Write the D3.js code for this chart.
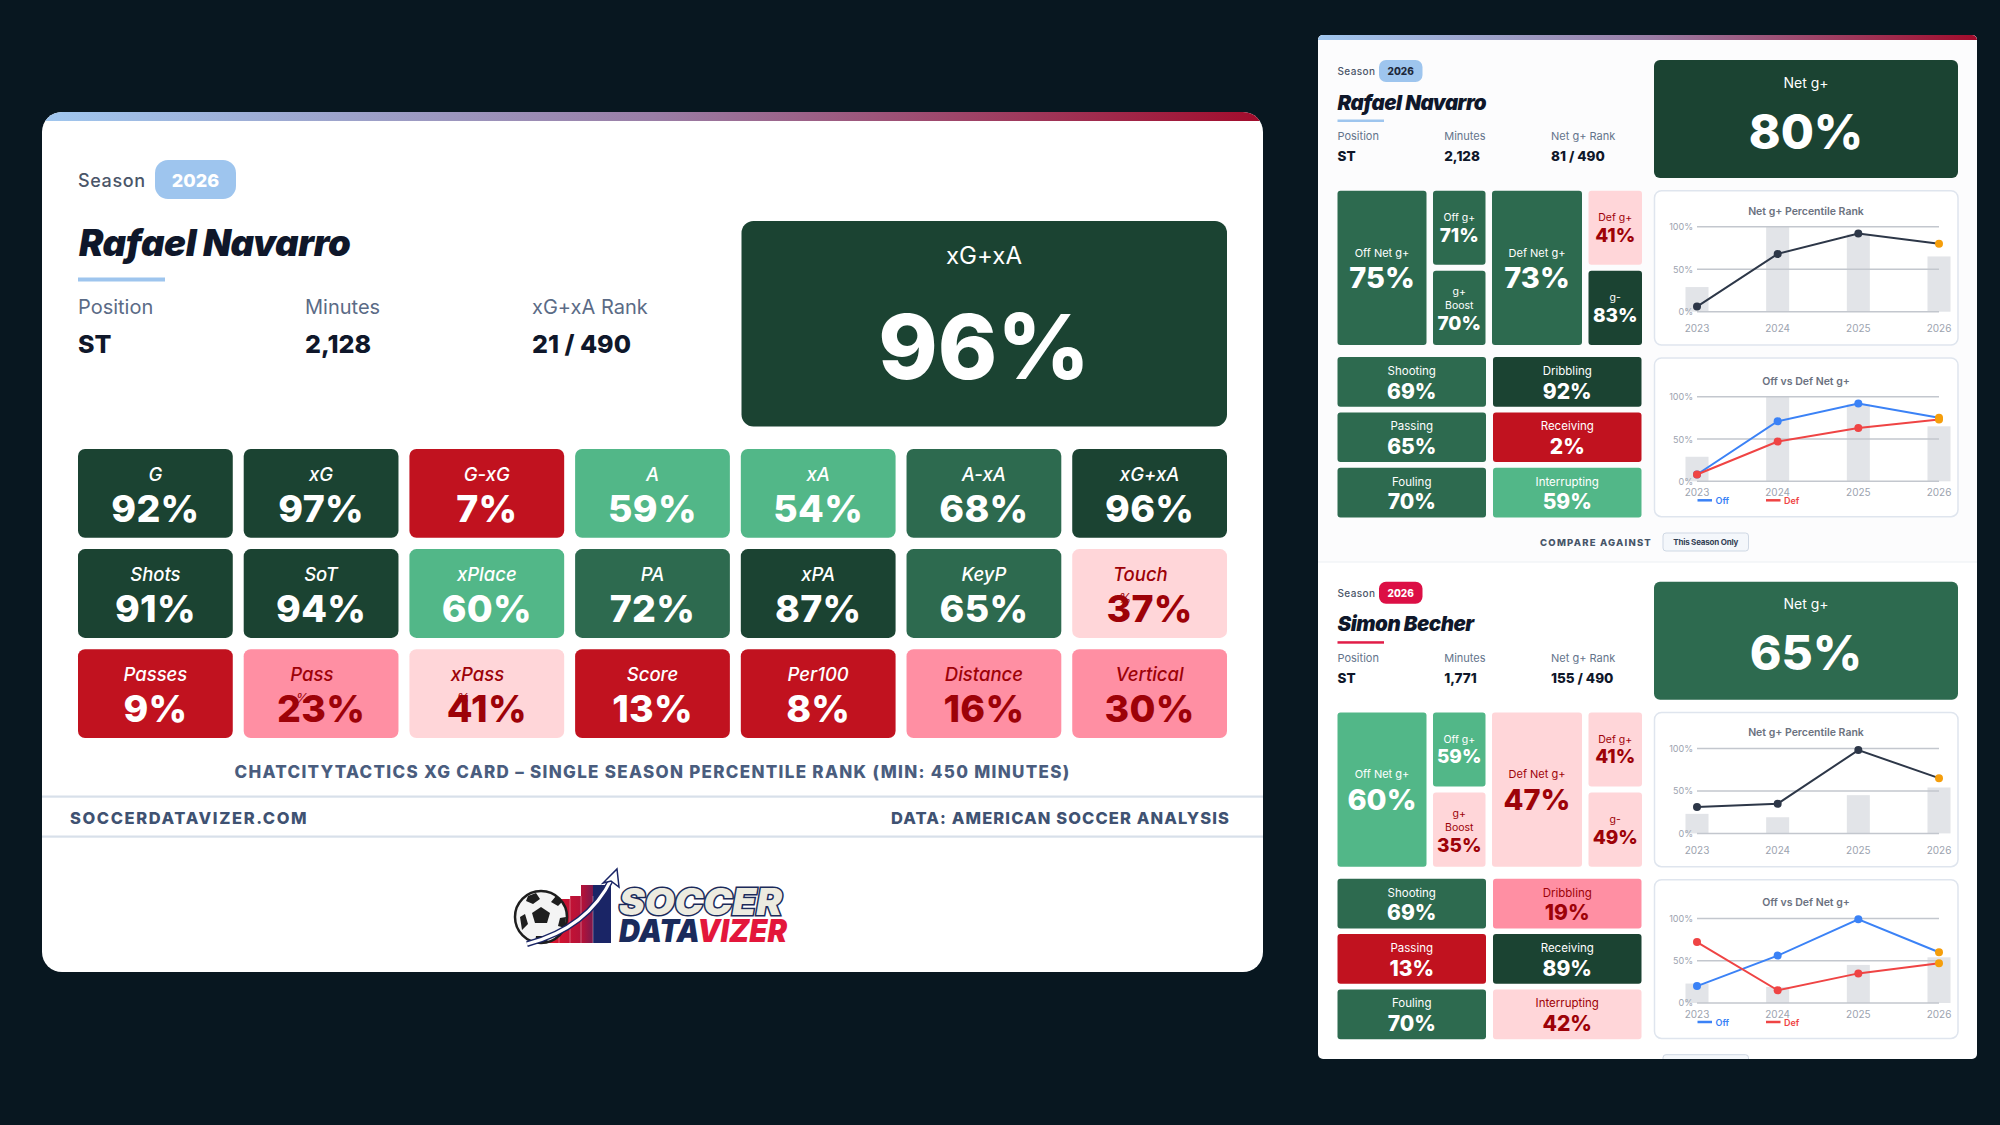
<!DOCTYPE html>
<html><head><meta charset="utf-8">
<script src="https://cdn.jsdelivr.net/npm/d3@7"></script>
<style>
html,body{margin:0;padding:0;background:#081720;}
svg{display:block;font-family:Inter,"Noto Sans",sans-serif;}
</style></head><body>
<svg id="c" width="2000" height="1125"></svg>
<script>
// ---------------- DATA ----------------
const season = "2026";
// left card: xG card
const xgPlayer = "Rafael Navarro";
const xgInfoLabels = ["Position", "Minutes", "xG+xA Rank"];
const xgInfoValues = ["ST", "2,128", "21 / 490"];
const xgHeadLabel = "xG+xA";
const xgHeadValue = 96;
const xgMetrics = ["G","xG","G-xG","A","xA","A-xA","xG+xA",
                   "Shots","SoT","xPlace","PA","xPA","KeyP","Touch %",
                   "Passes","Pass %","xPass %","Score","Per100","Distance","Vertical"];
const xgValues  = [92,97,7,59,54,68,96,
                   91,94,60,72,87,65,37,
                   9,23,41,13,8,16,30];
const xgCaption = "CHATCITYTACTICS XG CARD \u2013 SINGLE SEASON PERCENTILE RANK (MIN: 450 MINUTES)";
const footLeft = "SOCCERDATAVIZER.COM";
const footRight = "DATA: AMERICAN SOCCER ANALYSIS";

// right panel: g+ cards
const gPlayers   = ["Rafael Navarro", "Simon Becher"];
const gInfoLabels = ["Position", "Minutes", "Net g+ Rank"];
const gPositions = ["ST", "ST"];
const gMinutes   = ["2,128", "1,771"];
const gRanks     = ["81 / 490", "155 / 490"];
const gNetLabel  = "Net g+";
const gNet       = [80, 65];
const gTileLabels = ["Off Net g+", "Off g+", "g+ Boost", "Def Net g+", "Def g+", "g-"];
const gTileValues = [[75,71,70,73,41,83],[60,59,35,47,41,49]];
const gSkillLabels = ["Shooting","Dribbling","Passing","Receiving","Fouling","Interrupting"];
const gSkillValues = [[69,92,65,2,70,59],[69,19,13,89,70,42]];
const years = ["2023","2024","2025","2026"];
const netRankSeries = [[6,68,92,80],[31,35,98,65]];
const barSeries     = [[29,100,91,65],[23,19,45,54]];
const offSeries     = [[8,71,92,75],[20,56,99,60]];
const defSeries     = [[8,47,63,73],[72,15,35,47]];
const yTicks = [0,50,100];
const chartTitles = ["Net g+ Percentile Rank", "Off vs Def Net g+"];
const legendLabels = ["Off", "Def"];
const compareLabel = "COMPARE AGAINST";
const compareOption = "This Season Only";

// ---------------- STYLE ----------------
const fillScale = d3.scaleThreshold().domain([15,33,50,61,80])
  .range(["#c1121f","#ff8fa3","#ffd6d9","#52b788","#2d6a4f","#1b4332"]);
const textScale = d3.scaleThreshold().domain([15,50]).range(["#ffffff","#9d0208","#ffffff"]);
const pct = v => v + "%";

const svg = d3.select("#c");
const defs = svg.append("defs");
const grad = defs.append("linearGradient").attr("id","topgrad");
grad.append("stop").attr("offset","0").attr("stop-color","#a0c7ef");
grad.append("stop").attr("offset","0.5").attr("stop-color","#9a7ea6");
grad.append("stop").attr("offset","1").attr("stop-color","#a20c2c");

function T(g, x, y, s, o = {}) {
  const t = g.append("text").attr("x", x).attr("y", y)
    .attr("dominant-baseline", "central")
    .attr("text-anchor", o.anchor || "start")
    .attr("font-size", o.size || 12)
    .attr("font-weight", o.weight || 400)
    .attr("fill", o.fill || "#111")
    .text(s);
  if (o.italic) t.attr("font-style", "italic");
  if (o.ls) t.attr("letter-spacing", o.ls);
  return t;
}

// ---------------- LEFT CARD ----------------
const L = {x: 42, y: 112, w: 1221, h: 860};
defs.append("clipPath").attr("id","lclip").append("rect")
  .attr("x",L.x).attr("y",L.y).attr("width",L.w).attr("height",L.h).attr("rx",20);
const lc = svg.append("g").attr("clip-path","url(#lclip)");
lc.append("rect").attr("x",L.x).attr("y",L.y).attr("width",L.w).attr("height",L.h).attr("fill","#fff");
lc.append("rect").attr("x",L.x).attr("y",L.y).attr("width",L.w).attr("height",9).attr("fill","url(#topgrad)");

T(lc, 78, 180, "Season", {size: 18, fill: "#4a5568", ls: 0.6, weight: 500});
lc.append("rect").attr("x",155).attr("y",160).attr("width",81).attr("height",39).attr("rx",13).attr("fill","#9ec5ee");
T(lc, 195.5, 180, season, {size: 18, weight: 800, fill: "#fff", anchor: "middle"});
T(lc, 79, 243, xgPlayer, {size: 36.5, weight: 900, italic: true, fill: "#0f172a", ls: -0.4});
lc.append("rect").attr("x",78).attr("y",277.5).attr("width",87).attr("height",4).attr("fill","#9ec5ee");

const infoX = d3.scalePoint().domain(d3.range(3)).range([78, 532]);
xgInfoLabels.forEach((l, i) => {
  T(lc, infoX(i), 307, l, {size: 20, fill: "#5b6b86"});
  T(lc, infoX(i), 344, xgInfoValues[i], {size: 25, weight: 800, fill: "#0f172a"});
});

lc.append("rect").attr("x",741.5).attr("y",221).attr("width",485.5).attr("height",205.5).attr("rx",12).attr("fill",fillScale(xgHeadValue));
T(lc, 984, 255, xgHeadLabel, {size: 24, fill: "#fff", anchor: "middle"});
T(lc, 984, 346, pct(xgHeadValue), {size: 90, weight: 800, fill: "#fff", anchor: "middle"});

const colX = d3.scaleBand().domain(d3.range(7)).range([78, 1227]).paddingInner(0.066);
const rowY = d3.scaleBand().domain(d3.range(3)).range([449, 738]).paddingInner(0.113);
const tiles = lc.append("g").selectAll("g").data(xgMetrics.map((m, i) => ({m, v: xgValues[i], c: i % 7, r: Math.floor(i / 7)})))
  .join("g").attr("transform", d => `translate(${colX(d.c)},${rowY(d.r)})`);
tiles.append("rect").attr("width", colX.bandwidth()).attr("height", rowY.bandwidth()).attr("rx", 7).attr("fill", d => fillScale(d.v));
tiles.each(function(d) {
  const g = d3.select(this), cx = colX.bandwidth() / 2, col = textScale(d.v);
  const wrap = d.m.endsWith(" %");
  const lab = wrap ? d.m.slice(0, -2) : d.m;
  const t = T(g, wrap ? cx - 9.3 : cx, 24.5, lab, {size: 18.5, italic: true, fill: col, anchor: "middle", weight: 500});
  T(g, cx, 59, pct(d.v), {size: 37.5, weight: 800, fill: col, anchor: "middle", ls: 0.3});
  if (wrap) {
    const w = t.node().getComputedTextLength();
    T(g, cx - 9.3 - w / 2 + 12, 48.5, "%", {size: 13, italic: true, fill: col, anchor: "middle"});
  }
});

T(lc, 652.5, 772, xgCaption, {size: 17, weight: 800, fill: "#4a5d7e", anchor: "middle", ls: 1.3});
lc.append("rect").attr("x",L.x).attr("y",795.5).attr("width",L.w).attr("height",2.2).attr("fill","#d8e0ea");
lc.append("rect").attr("x",L.x).attr("y",835.5).attr("width",L.w).attr("height",2.2).attr("fill","#d8e0ea");
T(lc, 70, 818, footLeft, {size: 16.5, weight: 800, fill: "#3f5272", ls: 1.6});
T(lc, 1230, 818, footRight, {size: 16.5, weight: 800, fill: "#3f5272", ls: 1.1, anchor: "end"});

// logo (decorative)
const lg = lc.append("g");
const bg = defs.append("linearGradient").attr("id","bargrad");
bg.append("stop").attr("offset","0").attr("stop-color","#e0142c");
bg.append("stop").attr("offset","0.55").attr("stop-color","#b0123a");
bg.append("stop").attr("offset","1").attr("stop-color","#1b2870");
lg.append("path").attr("d","M549 943 V903 H559 V899 H570 V896 H581 V885 H611 V943 Z").attr("fill","url(#bargrad)");
lg.append("rect").attr("x",593).attr("y",885).attr("width",18).attr("height",58).attr("fill","#1a2566");
[559,570,581,593].forEach(x => lg.append("line").attr("x1",x).attr("x2",x).attr("y1",896).attr("y2",943).attr("stroke","#fff").attr("stroke-opacity",0.35));
lg.append("circle").attr("cx",541).attr("cy",917).attr("r",26).attr("fill","#f4f4f4").attr("stroke","#1e1e1e").attr("stroke-width",2.5);
lg.append("path").attr("d","M541 907 L550 913 L547 923 L535 923 L532 913 Z").attr("fill","#1e1e1e");
lg.append("path").attr("d","M528 896 L536 893 L540 899 L533 904 L526 901 Z M556 896 L562 902 L558 906 L551 902 Z M520 917 L525 914 L528 924 L522 930 Z M560 918 L566 917 L565 928 L558 926 Z M536 936 L546 936 L548 942 L535 942 Z").attr("fill","#1e1e1e");
lg.append("path").attr("d","M527 944 Q588 928 612 878").attr("fill","none").attr("stroke","#1a2566").attr("stroke-width",6);
lg.append("path").attr("d","M527 944 Q588 928 612 878").attr("fill","none").attr("stroke","#fff").attr("stroke-width",3);
lg.append("path").attr("d","M617 869 L619 887 L611 881 L603 883 Z").attr("fill","#fff").attr("stroke","#1a2566").attr("stroke-width",1.5);
lg.append("text").attr("x",619).attr("y",915).attr("font-size",37).attr("font-weight",900).attr("font-style","italic")
  .attr("fill","#ecebe0").attr("stroke","#1b2a5a").attr("stroke-width",3).attr("paint-order","stroke")
  .attr("textLength",163).attr("lengthAdjust","spacingAndGlyphs").text("SOCCER");
const dv = lg.append("text").attr("x",619).attr("y",942).attr("font-size",32).attr("font-weight",900).attr("font-style","italic")
  .attr("stroke","#fff").attr("stroke-width",2.5).attr("paint-order","stroke")
  .attr("textLength",168).attr("lengthAdjust","spacingAndGlyphs");
dv.append("tspan").attr("fill","#1a2b5c").text("DATA");
dv.append("tspan").attr("fill","#e3173b").text("VIZER");

// ---------------- RIGHT PANEL ----------------
const R = {x: 1318, y: 35, w: 659, h: 1024};
defs.append("clipPath").attr("id","rclip").append("rect")
  .attr("x",R.x).attr("y",R.y).attr("width",R.w).attr("height",R.h).attr("rx",5);
const rp = svg.append("g").attr("clip-path","url(#rclip)");
rp.append("rect").attr("x",R.x).attr("y",R.y).attr("width",R.w).attr("height",R.h).attr("fill","#fff");
rp.append("rect").attr("x",R.x).attr("y",R.y).attr("width",R.w).attr("height",527).attr("fill","#fcfcfd");
rp.append("rect").attr("x",R.x).attr("y",R.y).attr("width",R.w).attr("height",5).attr("fill","url(#topgrad)");
rp.append("rect").attr("x",R.x).attr("y",561.5).attr("width",R.w).attr("height",1).attr("fill","#eceff3");

const pillFill = ["#9ec5ee", "#dc0f45"], pillText = ["#1e293b", "#fff"], lineCol = ["#9ec5ee", "#e11d48"];

function gCard(i, oy) {
  const g = rp.append("g").attr("transform", `translate(0,${oy})`);
  T(g, 1337.5, 71, "Season", {size: 10, fill: "#4a5568", ls: 0.4, weight: 500});
  g.append("rect").attr("x",1379).attr("y",60).attr("width",43.5).attr("height",22).attr("rx",7).attr("fill",pillFill[i]);
  T(g, 1400.7, 71, season, {size: 10, weight: 800, fill: pillText[i], anchor: "middle"});
  T(g, 1337.5, 102, gPlayers[i], {size: 20.5, weight: 900, italic: true, fill: "#0f172a", ls: -0.5});
  g.append("rect").attr("x",1337.5).attr("y",119.5).attr("width",46.5).attr("height",2.5).attr("fill",lineCol[i]);
  const ix = d3.scalePoint().domain(d3.range(3)).range([1337.5, 1551]);
  const vals = [gPositions[i], gMinutes[i], gRanks[i]];
  gInfoLabels.forEach((l, k) => {
    T(g, ix(k), 136, l, {size: 11, fill: "#64748b"});
    T(g, ix(k), 156, vals[k], {size: 13.5, weight: 800, fill: "#0f172a"});
  });
  // headline
  g.append("rect").attr("x",1654).attr("y",60).attr("width",304).attr("height",118).attr("rx",6).attr("fill",fillScale(gNet[i]));
  T(g, 1806, 82, gNetLabel, {size: 14, fill: "#fff", anchor: "middle"});
  T(g, 1806, 131, pct(gNet[i]), {size: 48, weight: 800, fill: "#fff", anchor: "middle"});

  // tile grid
  const widths = [89, 52.5, 90, 53.5], gap = 6.5;
  const xs = widths.map((w, k) => 1337.5 + d3.sum(widths.slice(0, k)) + k * gap);
  const top = 190.7, full = 154.3, half = (full - 6) / 2;
  const spec = [[0, 0, full], [1, 0, half], [1, 1, half], [2, 0, full], [3, 0, half], [3, 1, half]];
  gTileLabels.forEach((lab, k) => {
    const [c, r, h] = spec[k], v = gTileValues[i][k];
    const x = xs[c], y = top + r * (half + 6), w = widths[c], cx = x + w / 2, col = textScale(v);
    g.append("rect").attr("x",x).attr("y",y).attr("width",w).attr("height",h).attr("rx",3).attr("fill",fillScale(v));
    if (h === full) {
      T(g, cx, y + 62, lab, {size: 11, fill: col, anchor: "middle"});
      T(g, cx, y + 87, pct(v), {size: 29, weight: 800, fill: col, anchor: "middle"});
    } else {
      const t = T(g, cx, y + 27, lab, {size: 10.5, fill: col, anchor: "middle"});
      if (t.node().getComputedTextLength() > w - 12) {
        const parts = lab.split(" ");
        t.text(parts[0]).attr("y", y + 21);
        T(g, cx, y + 35, parts.slice(1).join(" "), {size: 10.5, fill: col, anchor: "middle"});
        T(g, cx, y + 52.5, pct(v), {size: 19, weight: 800, fill: col, anchor: "middle"});
      } else {
        T(g, cx, y + 44.5, pct(v), {size: 19, weight: 800, fill: col, anchor: "middle"});
      }
    }
  });

  // skills
  const sc = d3.scaleBand().domain([0, 1]).range([1337.5, 1641.5]).paddingInner(0.045);
  const sr = d3.scaleBand().domain([0, 1, 2]).range([357, 517.5]).paddingInner(0.103);
  gSkillLabels.forEach((lab, k) => {
    const v = gSkillValues[i][k], x = sc(k % 2), y = sr(Math.floor(k / 2)), cx = x + sc.bandwidth() / 2, col = textScale(v);
    g.append("rect").attr("x",x).attr("y",y).attr("width",sc.bandwidth()).attr("height",sr.bandwidth()).attr("rx",3).attr("fill",fillScale(v));
    T(g, cx, y + 14, lab, {size: 11.5, fill: col, anchor: "middle"});
    T(g, cx, y + 34, pct(v), {size: 21, weight: 800, fill: col, anchor: "middle"});
  });

  // charts
  const x = d3.scalePoint().domain(years).range([1697, 1939]);
  function chart(boxTop, boxBot, titleY, y0, y100, yearDy, series, colors, legend) {
    const cg = g.append("g");
    cg.append("rect").attr("x",1654.5).attr("y",boxTop).attr("width",303.5).attr("height",boxBot - boxTop).attr("rx",7)
      .attr("fill","#fff").attr("stroke","#dfe5ee").attr("stroke-width",1.5);
    T(cg, 1806, titleY, chartTitles[legend ? 1 : 0], {size: 10.5, weight: 600, fill: "#6b7280", anchor: "middle"});
    const y = d3.scaleLinear().domain([0, 100]).range([y0, y100]);
    cg.selectAll("rect.bar").data(barSeries[i]).join("rect").attr("class","bar")
      .attr("x", (d, k) => x(years[k]) - 11.5).attr("width", 23)
      .attr("y", d => y(d)).attr("height", d => y(0) - y(d)).attr("fill", "#e2e4e8");
    cg.selectAll("line.grid").data(yTicks).join("line").attr("class","grid")
      .attr("x1", 1697).attr("x2", 1939).attr("y1", d => y(d)).attr("y2", d => y(d))
      .attr("stroke", "#c3c7ce").attr("stroke-width", 1.5);
    cg.selectAll("text.yt").data(yTicks).join("text").attr("class","yt")
      .attr("x", 1693).attr("y", d => y(d)).attr("text-anchor","end").attr("dominant-baseline","central")
      .attr("font-size", 9).attr("fill", "#9ca3af").text(d => d + "%");
    cg.selectAll("text.xt").data(years).join("text").attr("class","xt")
      .attr("x", d => x(d)).attr("y", y0 + yearDy).attr("text-anchor","middle").attr("dominant-baseline","central")
      .attr("font-size", 10).attr("fill", "#9ca3af").text(d => d);
    const line = d3.line().x((d, k) => x(years[k])).y(d => y(d));
    series.forEach((s, si) => {
      cg.append("path").attr("d", line(s)).attr("fill","none").attr("stroke", colors[si]).attr("stroke-width", 2);
      cg.selectAll(null).data(s).join("circle")
        .attr("cx", (d, k) => x(years[k])).attr("cy", d => y(d)).attr("r", 4)
        .attr("fill", (d, k) => k === years.length - 1 ? "#f59e0b" : colors[si]);
    });
    if (legend) {
      const lx = [1697.5, 1766];
      legendLabels.forEach((lab, k) => {
        cg.append("line").attr("x1", lx[k]).attr("x2", lx[k] + 14.5).attr("y1", y0 + 19).attr("y2", y0 + 19)
          .attr("stroke", colors[k]).attr("stroke-width", 2.5);
        T(cg, lx[k] + 18, y0 + 19.5, lab, {size: 9, weight: 600, fill: colors[k]});
      });
    }
  }
  chart(190.7, 345, 211, 311.7, 226.7, 16.5, [netRankSeries[i]], ["#2d3748"], false);
  chart(358, 516.7, 381, 481.3, 396.7, 10.7, [offSeries[i], defSeries[i]], ["#3b82f6", "#ef4444"], true);

  // compare row
  T(g, 1652, 542, compareLabel, {size: 9.5, weight: 800, fill: "#475569", anchor: "end", ls: 1.2});
  g.append("rect").attr("x",1663).attr("y",533).attr("width",85.5).attr("height",18).attr("rx",3)
    .attr("fill","#f4f7fb").attr("stroke","#cfd8e4").attr("stroke-width",1);
  T(g, 1705.7, 542, compareOption, {size: 8, weight: 700, fill: "#334155", anchor: "middle", ls: -0.2});
}
gCard(0, 0);
gCard(1, 521.7);
</script>
</body></html>
